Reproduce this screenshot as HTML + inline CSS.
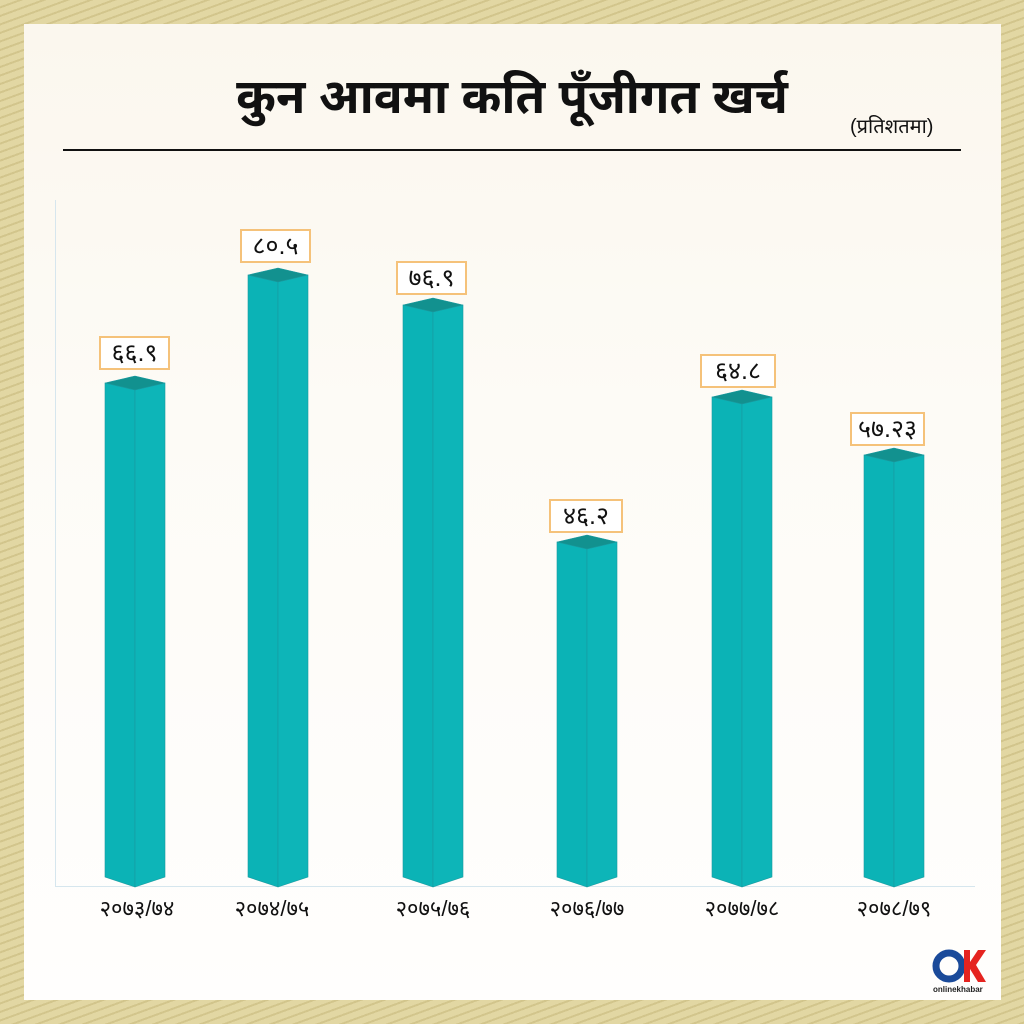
<!DOCTYPE html><html><head><meta charset="utf-8"><style>
body{margin:0;width:1024px;height:1024px;overflow:hidden;font-family:"Liberation Sans","Noto Sans Devanagari","Lohit Devanagari",sans-serif}
.bg{position:absolute;inset:0;background:repeating-linear-gradient(160deg,#e2d7a3 0 6px,#d2c58c 6px 8px)}
.panel{position:absolute;left:24px;top:24px;width:977px;height:976px;background:linear-gradient(#fbf7ee 0,#fdfbf6 40%,#fffefd 100%)}
.t{position:absolute;white-space:nowrap}
.lab{position:absolute;border:2px solid #f5c27a;background:#fff;font-size:25px;text-align:center;line-height:30px;color:#111}
.xl{position:absolute;top:896px;font-size:22px;width:160px;text-align:center;color:#111}
</style></head><body>
<div class="bg"></div><div class="panel"></div>
<div class="t" style="left:0;width:1024px;text-align:center;top:70px;font-size:48px;font-weight:bold;color:#111">कुन आवमा कति पूँजीगत खर्च</div>
<div class="t" style="left:850px;top:116px;font-size:20px;color:#111">(प्रतिशतमा)</div>
<div style="position:absolute;left:63px;top:149px;width:898px;height:2px;background:#111"></div>
<div style="position:absolute;left:55px;top:200px;width:1px;height:687px;background:#d6e6ee"></div>
<div style="position:absolute;left:55px;top:886px;width:920px;height:1px;background:#d6e6ee"></div>
<svg width="1024" height="1024" style="position:absolute;left:0;top:0">
<g stroke="#1a9aa0" stroke-width="0.6">
<path d="M105 383 L135 390 L135 887 L105 877Z" fill="#0bb3b6"/><path d="M135 390 L165 383 L165 877 L135 887Z" fill="#0db5b8"/><path d="M105 383 L135 376 L165 383 L135 390Z" fill="#12918f"/>
<path d="M248 275 L278 282 L278 887 L248 877Z" fill="#0bb3b6"/><path d="M278 282 L308 275 L308 877 L278 887Z" fill="#0db5b8"/><path d="M248 275 L278 268 L308 275 L278 282Z" fill="#12918f"/>
<path d="M403 305 L433 312 L433 887 L403 877Z" fill="#0bb3b6"/><path d="M433 312 L463 305 L463 877 L433 887Z" fill="#0db5b8"/><path d="M403 305 L433 298 L463 305 L433 312Z" fill="#12918f"/>
<path d="M557 542 L587 549 L587 887 L557 877Z" fill="#0bb3b6"/><path d="M587 549 L617 542 L617 877 L587 887Z" fill="#0db5b8"/><path d="M557 542 L587 535 L617 542 L587 549Z" fill="#12918f"/>
<path d="M712 397 L742 404 L742 887 L712 877Z" fill="#0bb3b6"/><path d="M742 404 L772 397 L772 877 L742 887Z" fill="#0db5b8"/><path d="M712 397 L742 390 L772 397 L742 404Z" fill="#12918f"/>
<path d="M864 455 L894 462 L894 887 L864 877Z" fill="#0bb3b6"/><path d="M894 462 L924 455 L924 877 L894 887Z" fill="#0db5b8"/><path d="M864 455 L894 448 L924 455 L894 462Z" fill="#12918f"/>
</g>
<circle cx="949" cy="966" r="13" fill="none" stroke="#1a4a9a" stroke-width="7"/>
<path d="M964 950 L970 950 L970 962 L978 950 L986 950 L976 965 L986 982 L978 982 L970 969 L970 982 L964 982Z" fill="#e52420"/>
<text x="933" y="992" font-size="8" font-family="Liberation Sans" font-weight="bold" fill="#222">onlinekhabar</text>
</svg>
<div class="lab" style="left:99px;top:336px;width:67px">६६.९</div>
<div class="lab" style="left:240px;top:229px;width:67px">८०.५</div>
<div class="lab" style="left:396px;top:261px;width:67px">७६.९</div>
<div class="lab" style="left:549px;top:499px;width:70px">४६.२</div>
<div class="lab" style="left:700px;top:354px;width:72px">६४.८</div>
<div class="lab" style="left:850px;top:412px;width:71px">५७.२३</div>
<div class="xl" style="left:57px">२०७३/७४</div>
<div class="xl" style="left:192px">२०७४/७५</div>
<div class="xl" style="left:353px">२०७५/७६</div>
<div class="xl" style="left:507px">२०७६/७७</div>
<div class="xl" style="left:662px">२०७७/७८</div>
<div class="xl" style="left:814px">२०७८/७९</div>
</body></html>
